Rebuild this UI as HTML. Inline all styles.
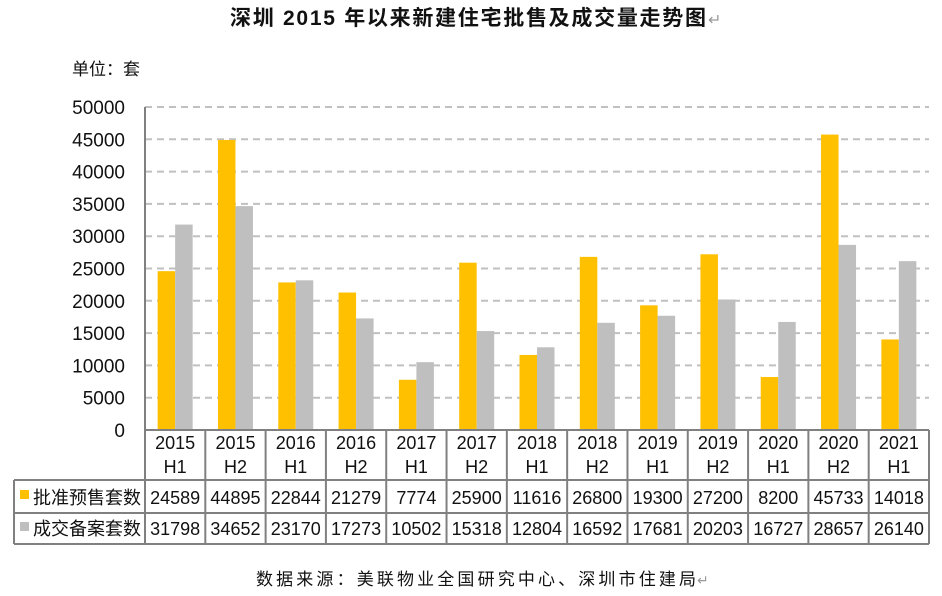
<!DOCTYPE html>
<html><head><meta charset="utf-8"><style>
body{margin:0;background:#fff;width:942px;height:596px;overflow:hidden}
svg{display:block}
text{font-family:"Liberation Sans","Noto Sans CJK SC",sans-serif;fill:#111}
</style></head><body>
<svg id="s" width="942" height="596" xmlns="http://www.w3.org/2000/svg">
<text x="230" y="25" font-size="21" font-weight="bold" textLength="476" lengthAdjust="spacing">深圳 2015 年以来新建住宅批售及成交量走势图</text>
<text x="708" y="25" font-size="16" style="fill:#999">↵</text>
<text x="72" y="75" font-size="17">单位：套</text>
<text x="256" y="585" font-size="17" textLength="440" lengthAdjust="spacing">数据来源：美联物业全国研究中心、深圳市住建局</text>
<text x="697" y="585" font-size="14" style="fill:#999">↵</text>
<g id="g"></g>
</svg>
<script>
const A=[24589,44895,22844,21279,7774,25900,11616,26800,19300,27200,8200,45733,14018];
const B=[31798,34652,23170,17273,10502,15318,12804,16592,17681,20203,16727,28657,26140];
const C=["2015","2015","2016","2016","2017","2017","2018","2018","2019","2019","2020","2020","2021"];
const H=["H1","H2"];
const y0=430,sc=323/50000,x0=145,w=(929-145)/13;
let s="";
for(let v=5000;v<=50000;v+=5000){const y=y0-v*sc;s+=`<line x1="${x0}" x2="929" y1="${y}" y2="${y}" stroke="#c0c0c0" stroke-width="2" stroke-dasharray="7,5"/>`;}
for(let v=0;v<=50000;v+=5000){s+=`<text x="125" y="${y0-v*sc+7}" font-size="19" text-anchor="end">${v}</text>`;}
for(let i=0;i<13;i++){const c=x0+w*(i+0.5);
s+=`<rect x="${c-17.5}" y="${y0-A[i]*sc}" width="17.5" height="${A[i]*sc}" fill="#FFC000"/>`;
s+=`<rect x="${c}" y="${y0-B[i]*sc}" width="17.5" height="${B[i]*sc}" fill="#BFBFBF"/>`;
s+=`<text x="${c}" y="449" font-size="18" text-anchor="middle">${C[i]}</text>`;
s+=`<text x="${c}" y="473" font-size="18" text-anchor="middle">${i==12?"H1":H[i%2]}</text>`;
s+=`<text x="${c}" y="504" font-size="18" text-anchor="middle">${A[i]}</text>`;
s+=`<text x="${c}" y="535" font-size="18" text-anchor="middle">${B[i]}</text>`;}
const st='stroke="#808080" stroke-width="2"';
s+=`<line x1="${x0}" x2="${x0}" y1="107" y2="544" ${st}/>`;
s+=`<line x1="${x0}" x2="929" y1="430" y2="430" ${st}/>`;
s+=`<line x1="14" x2="929" y1="480" y2="480" ${st}/>`;
s+=`<line x1="14" x2="929" y1="513" y2="513" ${st}/>`;
s+=`<line x1="14" x2="929" y1="544" y2="544" ${st}/>`;
s+=`<line x1="14" x2="14" y1="480" y2="544" ${st}/>`;
for(let i=1;i<=13;i++){const x=x0+w*i;s+=`<line x1="${x}" x2="${x}" y1="430" y2="544" ${st}/>`;}
s+=`<rect x="20" y="490" width="9" height="9" fill="#FFC000"/><text x="33" y="504" font-size="18">批准预售套数</text>`;
s+=`<rect x="20" y="522" width="9" height="9" fill="#BFBFBF"/><text x="33" y="535" font-size="18">成交备案套数</text>`;
document.getElementById("g").innerHTML=s;
</script>
</body></html>
